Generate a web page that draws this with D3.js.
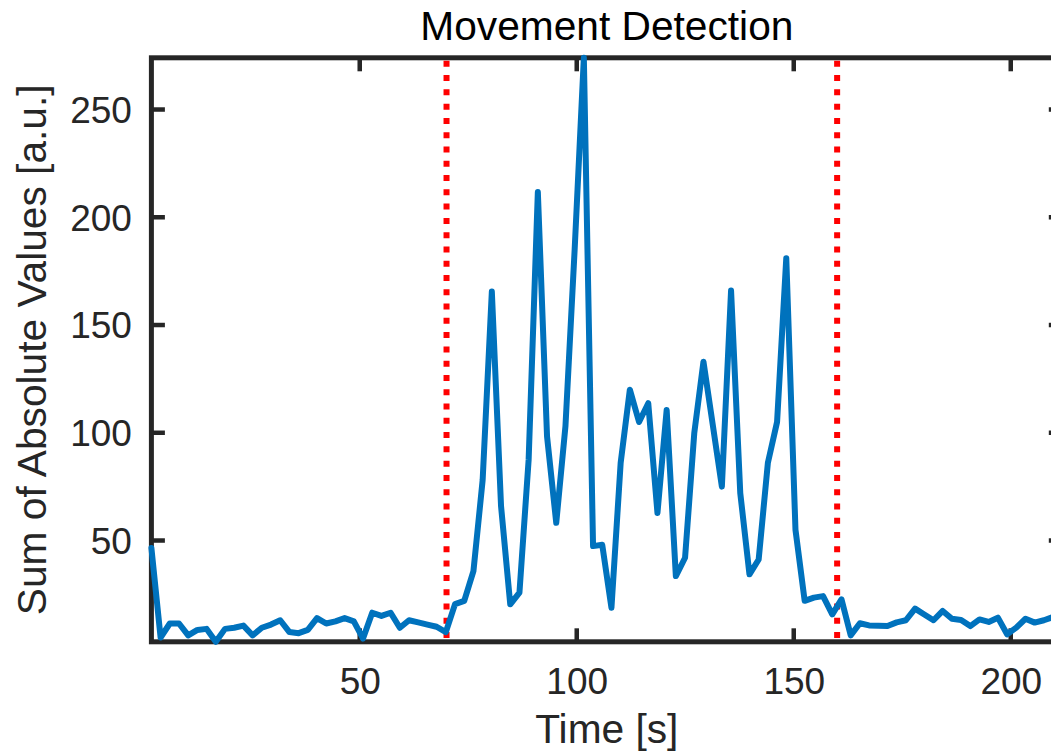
<!DOCTYPE html>
<html>
<head>
<meta charset="utf-8">
<script src="https://cdn.jsdelivr.net/npm/d3@7"></script>
<style>
  html, body { margin: 0; padding: 0; background: #fff; }
  svg { display: block; }
  text { font-family: "Liberation Sans", Arial, Helvetica, sans-serif; }
</style>
</head>
<body>
<div id="chart"></div>
<script>
// ---- data ----
const timeSec = [
  2.00, 4.12, 6.24, 8.36, 10.48, 12.60, 14.72, 16.84, 18.96, 21.08,
  23.20, 25.32, 27.44, 29.56, 31.68, 33.80, 35.92, 38.04, 40.16, 42.28,
  44.40, 46.52, 48.64, 50.76, 52.88, 55.00, 57.12, 59.24, 61.36, 63.48,
  65.60, 67.72, 69.84, 71.96, 74.08, 76.20, 78.32, 80.44, 82.56, 84.68,
  86.80, 88.92, 91.04, 93.16, 95.28, 97.40, 99.52, 101.64, 103.76, 105.88,
  108.00, 110.12, 112.24, 114.36, 116.48, 118.60, 120.72, 122.84, 124.96, 127.08,
  129.20, 131.32, 133.44, 135.56, 137.68, 139.80, 141.92, 144.04, 146.16, 148.28,
  150.40, 152.52, 154.64, 156.76, 158.88, 161.00, 163.12, 165.24, 167.36, 169.48,
  171.60, 173.72, 175.84, 177.96, 180.08, 182.20, 184.32, 186.44, 188.56, 190.68,
  192.80, 194.92, 197.04, 199.16, 201.28, 203.40, 205.52, 207.64, 209.76, 211.88
];
const sumAbs = [
  46.5, 5, 11.5, 11.5, 6, 8.5, 9, 3, 9, 9.5,
  10.5, 6, 9.5, 11, 13, 7.5, 7, 8.5, 14, 11.5,
  12.5, 14, 12.5, 4.5, 16.5, 15, 16.5, 9.5, 13, 12,
  11, 10, 7.5, 20.5, 22, 35.8, 78, 165.5, 66, 20.4,
  25.8, 87.5, 211.7, 98.3, 58.2, 103, 185, 274, 47.4, 48,
  18.8, 86, 120, 105, 113.7, 62.8, 110.6, 33.5, 42, 99.8,
  133, 104, 75, 166, 72, 34.3, 41.2, 86, 105, 181,
  55, 22, 23.5, 24.2, 15.7, 22.7, 6, 11.6, 10.6, 10.5,
  10.3, 12, 13, 18.4, 15.7, 13, 17.3, 13.7, 13.1, 10.3,
  13.4, 12.2, 14.2, 6.5, 9.6, 13.7, 11.9, 13, 14.5, 15
];
const eventMarks = [70, 160];
const xTicks = [50, 100, 150, 200];
const yTicks = [50, 100, 150, 200, 250];
const titleText = "Movement Detection";
const xLabelText = "Time [s]";
const yLabelText = "Sum of Absolute Values [a.u.]";

// ---- layout ----
const W = 1051, H = 756;
const pLeft = 151.4, pRight = 1062.3, pTop = 57.8, pBottom = 641.8;
const axisColor = "#262626";
const lineBlue = "#0072BD";
const tickLen = 13.5;
const tickFont = 37, labelFont = 40.7;

const svg = d3.select("#chart").append("svg")
  .attr("width", W).attr("height", H);

const x = d3.scaleLinear().domain(d3.extent(timeSec)).range([pLeft, pRight]);
const y = d3.scaleLinear().domain(d3.extent(sumAbs)).range([pBottom, pTop]);

// ---- axes (box + ticks) ----
const gAxes = svg.append("g");

const axBottom = d3.axisBottom(x).tickValues(xTicks).tickSize(0).tickPadding(0).tickFormat(d3.format("d"));
const axLeft = d3.axisLeft(y).tickValues(yTicks).tickSize(0).tickPadding(0).tickFormat(d3.format("d"));

const gx = gAxes.append("g").attr("transform", `translate(0,${pBottom})`).call(axBottom);
gx.select(".domain").remove();
gx.selectAll(".tick text")
  .attr("y", 52).attr("dy", 0)
  .attr("font-size", tickFont).attr("fill", axisColor)
  .attr("font-family", "Liberation Sans, Arial, sans-serif");

const gy = gAxes.append("g").attr("transform", `translate(${pLeft},0)`).call(axLeft);
gy.select(".domain").remove();
gy.selectAll(".tick text")
  .attr("x", -19.5).attr("dy", "0.35em")
  .attr("font-size", tickFont).attr("fill", axisColor)
  .attr("text-anchor", "end")
  .attr("font-family", "Liberation Sans, Arial, sans-serif");

// inward ticks on all four sides
const tickG = gAxes.append("g").attr("stroke", axisColor).attr("stroke-width", 4.5);
xTicks.forEach(t => {
  tickG.append("line").attr("x1", x(t)).attr("x2", x(t)).attr("y1", pBottom).attr("y2", pBottom - tickLen);
  tickG.append("line").attr("x1", x(t)).attr("x2", x(t)).attr("y1", pTop).attr("y2", pTop + tickLen);
});
yTicks.forEach(v => {
  tickG.append("line").attr("x1", pLeft).attr("x2", pLeft + tickLen).attr("y1", y(v)).attr("y2", y(v));
  tickG.append("line").attr("x1", pRight).attr("x2", pRight - tickLen).attr("y1", y(v)).attr("y2", y(v));
});

// box
gAxes.append("rect")
  .attr("x", pLeft).attr("y", pTop)
  .attr("width", pRight - pLeft).attr("height", pBottom - pTop)
  .attr("fill", "none").attr("stroke", axisColor).attr("stroke-width", 5);

// ---- event markers (red dotted) ----
const yDom = y.domain();
svg.append("g").selectAll("line").data(eventMarks).join("line")
  .attr("x1", d => x(d)).attr("x2", d => x(d))
  .attr("y1", y(yDom[1])).attr("y2", y(yDom[0]))
  .attr("stroke", "#FF0000").attr("stroke-width", 6)
  .attr("stroke-dasharray", "6,8.28")
  .attr("stroke-dashoffset", 11.28);

// ---- data line ----
const pts = timeSec.map((t, i) => [t, sumAbs[i]]);
svg.append("path")
  .datum(pts)
  .attr("fill", "none")
  .attr("stroke", lineBlue)
  .attr("stroke-width", 6)
  .attr("stroke-linejoin", "round")
  .attr("stroke-linecap", "round")
  .attr("d", d3.line().x(d => x(d[0])).y(d => y(d[1])));

// ---- labels ----
const midX = (pLeft + pRight) / 2, midY = (pTop + pBottom) / 2;
svg.append("text")
  .attr("x", midX).attr("y", 40)
  .attr("text-anchor", "middle")
  .attr("font-size", labelFont).attr("fill", "#000")
  .text(titleText);

svg.append("text")
  .attr("x", midX).attr("y", 743)
  .attr("text-anchor", "middle")
  .attr("font-size", labelFont).attr("fill", axisColor)
  .text(xLabelText);

svg.append("text")
  .attr("transform", `translate(46,${midY}) rotate(-90)`)
  .attr("text-anchor", "middle")
  .attr("font-size", labelFont).attr("fill", axisColor)
  .text(yLabelText);
</script>
</body>
</html>
